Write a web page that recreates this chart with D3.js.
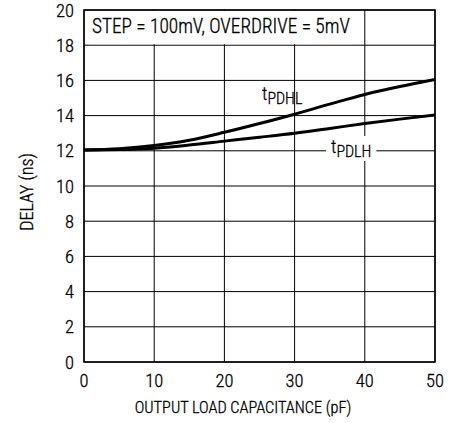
<!DOCTYPE html>
<html><head><meta charset="utf-8">
<script src="https://cdn.jsdelivr.net/npm/d3@7"></script>
<style>
html,body{margin:0;padding:0;background:#fff;}
text{font-family:"Roboto Condensed","Liberation Sans Narrow","Arial Narrow",sans-serif;font-weight:300;fill:#000;stroke:#000;stroke-width:0.3px;}
</style></head>
<body><svg id="c" width="458" height="423"></svg>
<script>
const capacitance = [0, 5, 10, 15, 20, 25, 30, 35, 40, 45, 50];
const tPDHL = [12.05, 12.12, 12.3, 12.6, 13.05, 13.55, 14.08, 14.65, 15.2, 15.65, 16.05];
const tPDLH = [12.05, 12.07, 12.15, 12.33, 12.55, 12.77, 13.0, 13.27, 13.55, 13.8, 14.03];
const xTicks = [0, 10, 20, 30, 40, 50];
const yTicks = [0, 2, 4, 6, 8, 10, 12, 14, 16, 18, 20];
const xTitle = "OUTPUT LOAD CAPACITANCE (pF)";
const yTitle = "DELAY (ns)";
const note = "STEP = 100mV, OVERDRIVE = 5mV";

const svg = d3.select("#c");
const L = 84, R = 435, T = 10, B = 362;
const x = d3.scaleLinear().domain([0, 50]).range([L, R]);
const y = d3.scaleLinear().domain([0, 20]).range([B, T]);

// grid
const g = svg.append("g");
g.selectAll(".vx").data(xTicks).join("line")
  .attr("x1", d => x(d)).attr("x2", d => x(d)).attr("y1", T).attr("y2", B)
  .attr("stroke", "#000").attr("stroke-width", 1);
g.selectAll(".hy").data(yTicks).join("line")
  .attr("x1", L).attr("x2", R).attr("y1", d => y(d)).attr("y2", d => y(d))
  .attr("stroke", "#000").attr("stroke-width", 1);

// note with white background
const noteT = svg.append("text").attr("x", 92).attr("y", 33).attr("font-size", 19.3).text(note);
const bb = noteT.node().getBBox();
svg.insert("rect", "text").attr("x", bb.x - 3).attr("y", T + 1).attr("width", bb.width + 6).attr("height", y(18) - T - 2)
  .attr("fill", "#fff");

// curves
const line = d3.line().x((d, i) => x(capacitance[i])).y(d => y(d)).curve(d3.curveMonotoneX);
[tPDHL, tPDLH].forEach(s => {
  svg.append("path").attr("d", line(s)).attr("fill", "none").attr("stroke", "#000").attr("stroke-width", 3);
});

// series labels
function lab(px, py, sub, bg) {
  const t = svg.append("text").attr("x", px).attr("y", py).attr("font-size", 18.5);
  t.append("tspan").text("t");
  t.append("tspan").attr("font-size", 16).attr("dy", 4).text(sub);
  if (bg) {
    const b = t.node().getBBox();
    svg.insert("rect", "text").attr("x", b.x - 5).attr("y", b.y).attr("width", b.width + 10).attr("height", b.height)
      .attr("fill", "#fff");
  }
}
lab(262, 100, "PDHL", false);
lab(331, 153, "PDLH", true);

// frame
svg.append("rect").attr("x", L).attr("y", T).attr("width", R - L).attr("height", B - T)
  .attr("fill", "none").attr("stroke", "#000").attr("stroke-width", 1.5);

// tick labels
svg.selectAll(".yl").data(yTicks).join("text")
  .attr("x", 74).attr("y", d => y(d)).attr("dy", "0.36em").attr("text-anchor", "end")
  .attr("font-size", 18.5).text(d => d);
svg.selectAll(".xl").data(xTicks).join("text")
  .attr("x", d => x(d)).attr("y", 387).attr("text-anchor", "middle")
  .attr("font-size", 18.5).text(d => d);

// titles
svg.append("text").attr("x", 243).attr("y", 413).attr("text-anchor", "middle").attr("font-size", 16.3).text(xTitle);
svg.append("text").attr("transform", "translate(33,192) rotate(-90)").attr("text-anchor", "middle")
  .attr("font-size", 18).text(yTitle);
</script></body></html>
